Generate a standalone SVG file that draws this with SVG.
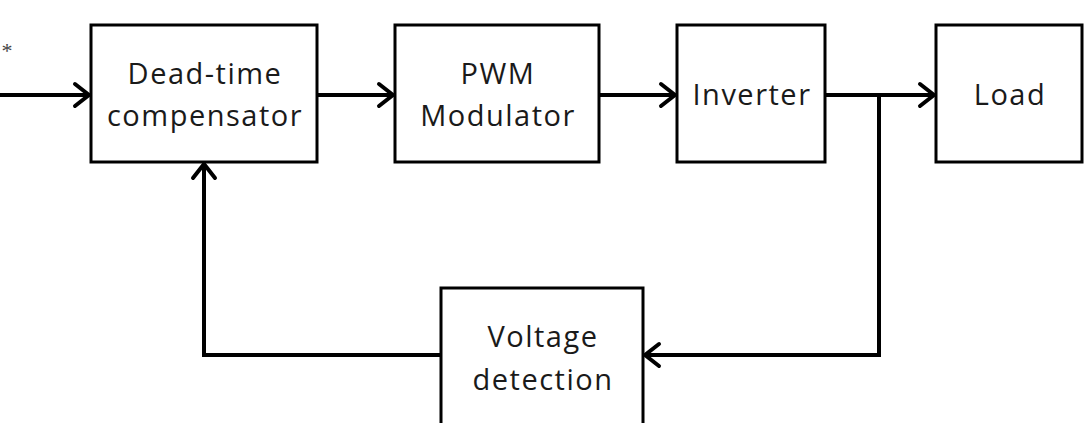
<svg xmlns="http://www.w3.org/2000/svg" width="1089" height="423" viewBox="0 0 1089 423">
<style>
.box{fill:#fff;stroke:#000;stroke-width:3}
.t{font-family:"Open Sans","Noto Sans",sans-serif;font-size:29px;letter-spacing:1.5px;fill:#1a1a1a;text-anchor:middle}
.c{fill:none;stroke:#000;stroke-width:4}
.ah{fill:none;stroke:#000;stroke-width:4;stroke-linecap:round;stroke-linejoin:miter}
</style>
<rect width="1089" height="423" fill="#fff"/>
<text x="7" y="58" font-family="Liberation Serif,serif" font-size="22" fill="#444" text-anchor="middle">*</text>
<g id="connectors">
<path class="c" d="M0 95H89"/>
<path class="ah" d="M75 84L89 95L75 106"/>
<path class="c" d="M317 95H393"/>
<path class="ah" d="M379 84L393 95L379 106"/>
<path class="c" d="M599 95H675"/>
<path class="ah" d="M661 84L675 95L661 106"/>
<path class="c" d="M825 95H934"/>
<path class="ah" d="M920 84L934 95L920 106"/>
<path class="c" d="M879 95V355H645"/>
<path class="ah" d="M659 344L645 355L659 366"/>
<path class="c" d="M441 355H204V164"/>
<path class="ah" d="M193 178L204 164L215 178"/>
</g>
<g id="dead-time"><rect class="box" x="91" y="25" width="226" height="137"/>
<text class="t" x="205" y="84">Dead-time</text><text class="t" x="205" y="126">compensator</text></g>
<g id="pwm"><rect class="box" x="395" y="25" width="204" height="137"/>
<text class="t" x="498" y="84">PWM</text><text class="t" x="498" y="126">Modulator</text></g>
<g id="inverter"><rect class="box" x="677" y="25" width="148" height="137"/>
<text class="t" x="752" y="105">Inverter</text></g>
<g id="load"><rect class="box" x="936" y="25" width="146" height="137"/>
<text class="t" x="1010" y="105">Load</text></g>
<g id="voltage"><rect class="box" x="441" y="288" width="202" height="150"/>
<text class="t" x="543" y="347">Voltage</text><text class="t" x="543" y="390">detection</text></g>
</svg>
